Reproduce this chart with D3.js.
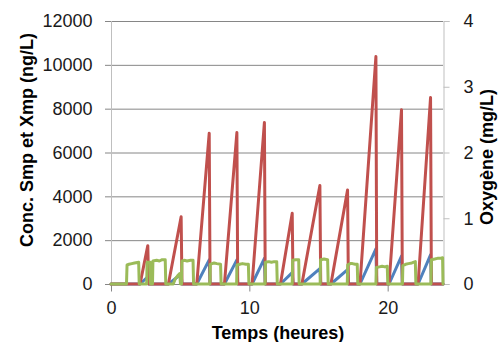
<!DOCTYPE html>
<html><head><meta charset="utf-8">
<script src="https://cdn.jsdelivr.net/npm/d3@7"></script>
<style>
body{margin:0;background:#fff;}
text{font-family:"Liberation Sans",Arial,sans-serif;}
</style></head>
<body><svg id="c" width="498" height="342"></svg>
<script>
// Time axis (hours)
const xTicks = [0, 10, 20];
const yLeftTicks = [0, 2000, 4000, 6000, 8000, 10000, 12000];
const yRightTicks = [0, 1, 2, 3, 4];

// Xmp (red), ng/L
const redT = [0, 2.1, 2.66, 2.72, 4.15, 5.07, 5.13, 6.2, 7.1, 7.16, 8.2, 9.1, 9.16, 10.2, 11.09, 11.15, 12.25, 13.1, 13.16, 13.8, 15.1, 15.16, 15.9, 17.1, 17.16, 18.0, 19.15, 19.21, 20.1, 21.0, 21.06, 22.2, 23.1, 23.16, 24];
const redV = [0, 0, 1750, 0, 0, 3070, 0, 0, 6880, 0, 0, 6910, 0, 0, 7370, 0, 0, 3230, 0, 0, 4490, 0, 0, 4290, 0, 0, 10380, 0, 0, 7950, 0, 0, 8510, 0, 0];

// Smp (blue), ng/L
const blueT = [0, 2.1, 2.66, 2.72, 4.15, 5.07, 5.13, 6.2, 7.1, 7.16, 8.2, 9.1, 9.16, 10.2, 11.09, 11.15, 12.25, 13.1, 13.16, 13.8, 15.1, 15.16, 15.9, 17.1, 17.16, 18.0, 19.15, 19.21, 20.1, 21.0, 21.06, 22.2, 23.1, 23.16, 24];
const blueV = [0, 0, 330, 0, 0, 450, 0, 0, 1100, 0, 0, 1100, 0, 0, 1170, 0, 0, 520, 0, 0, 700, 0, 0, 660, 0, 0, 1600, 0, 0, 1270, 0, 0, 1330, 0, 0];

// Oxygène (green), mg/L
const greenT = [0, 1.12, 1.16, 1.3, 1.5, 1.7, 2.0, 2.04, 2.58, 2.61, 2.83, 2.86, 3.0, 3.03, 3.3, 3.5, 3.7, 3.92, 3.96, 4.5, 4.65, 4.8, 4.97, 5.02, 5.1, 5.13, 5.3, 5.5, 5.75, 5.93, 5.97, 7.15, 7.18, 7.3, 7.45, 7.65, 7.92, 7.96, 9.08, 9.11, 9.3, 9.5, 9.75, 9.93, 9.97, 11.14, 11.17, 11.4, 11.6, 11.8, 11.98, 12.02, 13.1, 13.13, 13.35, 13.57, 13.6, 15.12, 15.15, 15.4, 15.66, 15.7, 17.08, 17.11, 17.3, 17.45, 17.65, 17.8, 17.84, 19.15, 19.18, 19.4, 19.6, 19.8, 19.97, 20.01, 21.07, 21.1, 21.3, 21.5, 21.75, 22.0, 22.04, 23.13, 23.16, 23.4, 23.6, 23.8, 23.97, 24.0];
const greenV = [0, 0, 0.29, 0.30, 0.31, 0.32, 0.33, 0, 0, 0.33, 0.33, 0, 0, 0.35, 0.36, 0.35, 0.37, 0.37, 0, 0, 0.08, 0.12, 0.16, 0, 0, 0.35, 0.36, 0.35, 0.36, 0.36, 0, 0, 0.30, 0.31, 0.32, 0.31, 0.30, 0, 0, 0.29, 0.30, 0.31, 0.30, 0.30, 0, 0, 0.33, 0.34, 0.33, 0.34, 0.34, 0, 0, 0.36, 0.37, 0.37, 0, 0, 0.37, 0.38, 0.37, 0, 0, 0.29, 0.31, 0.31, 0.30, 0.30, 0, 0, 0.25, 0.26, 0.27, 0.26, 0.27, 0, 0, 0.28, 0.30, 0.31, 0.32, 0.34, 0, 0, 0.37, 0.38, 0.39, 0.39, 0.40, 0];

const svg = d3.select("#c");
const L = 111, R = 443, T = 21, B = 284;
const x = d3.scaleLinear().domain([0, 24]).range([L, R]);
const yL = d3.scaleLinear().domain([0, 12000]).range([B, T]);
const yR = d3.scaleLinear().domain([0, 4]).range([B, T]);

// gridlines
svg.append("g").selectAll("line").data(yLeftTicks).join("line")
  .attr("x1", L - 6).attr("x2", R).attr("y1", d => yL(d) + 0.5).attr("y2", d => yL(d) + 0.5)
  .attr("stroke", "#868686").attr("stroke-width", 1);

// axes
const axL = svg.append("g").attr("transform", `translate(${L + 0.5},0)`)
  .call(d3.axisLeft(yL).tickValues(yLeftTicks).tickSize(0).tickPadding(19).tickFormat(d3.format("d")));
axL.select(".domain").remove();
svg.append("line").attr("x1", L + 0.5).attr("x2", L + 0.5).attr("y1", T).attr("y2", B + 7).attr("stroke", "#bfbfbf");

const axR = svg.append("g").attr("transform", `translate(${R + 0.5},0)`)
  .call(d3.axisRight(yR).tickValues(yRightTicks).tickSize(6).tickPadding(14).tickFormat(d3.format("d")));
axR.select(".domain").attr("stroke", "#bfbfbf");
axR.selectAll(".tick line").attr("stroke", "#bfbfbf");

const axB = svg.append("g").attr("transform", `translate(0,${B + 0.5})`)
  .call(d3.axisBottom(x).tickValues(xTicks).tickSize(7).tickPadding(10));
axB.select(".domain").remove();
axB.selectAll(".tick line").attr("stroke", "#868686");

svg.selectAll(".tick text").attr("font-size", 18).attr("fill", "#1a1a1a")
  .attr("font-family", "'Liberation Sans', Arial, sans-serif");

// series
function drawLine(ts, vs, y, color, w) {
  const pts = ts.map((t, i) => [t, vs[i]]);
  svg.append("path").datum(pts)
    .attr("d", d3.line().x(d => x(d[0])).y(d => y(d[1])))
    .attr("fill", "none").attr("stroke", color).attr("stroke-width", w)
    .attr("stroke-linejoin", "round").attr("stroke-linecap", "round");
}
drawLine(blueT, blueV, yL, "#4f81bd", 3);
drawLine(redT, redV, yL, "#c0504d", 3);
drawLine(greenT, greenV, yR, "#9bbb59", 3);

// titles
svg.append("text").attr("transform", "translate(33,140) rotate(-90)")
  .attr("text-anchor", "middle").attr("font-size", 18).attr("font-weight", "bold")
  .text("Conc. Smp et Xmp (ng/L)");
svg.append("text").attr("transform", "translate(493,157) rotate(-90)")
  .attr("text-anchor", "middle").attr("font-size", 18).attr("font-weight", "bold")
  .text("Oxygène (mg/L)");
svg.append("text").attr("x", 278).attr("y", 339)
  .attr("text-anchor", "middle").attr("font-size", 18).attr("font-weight", "bold")
  .text("Temps (heures)");
</script></body></html>
